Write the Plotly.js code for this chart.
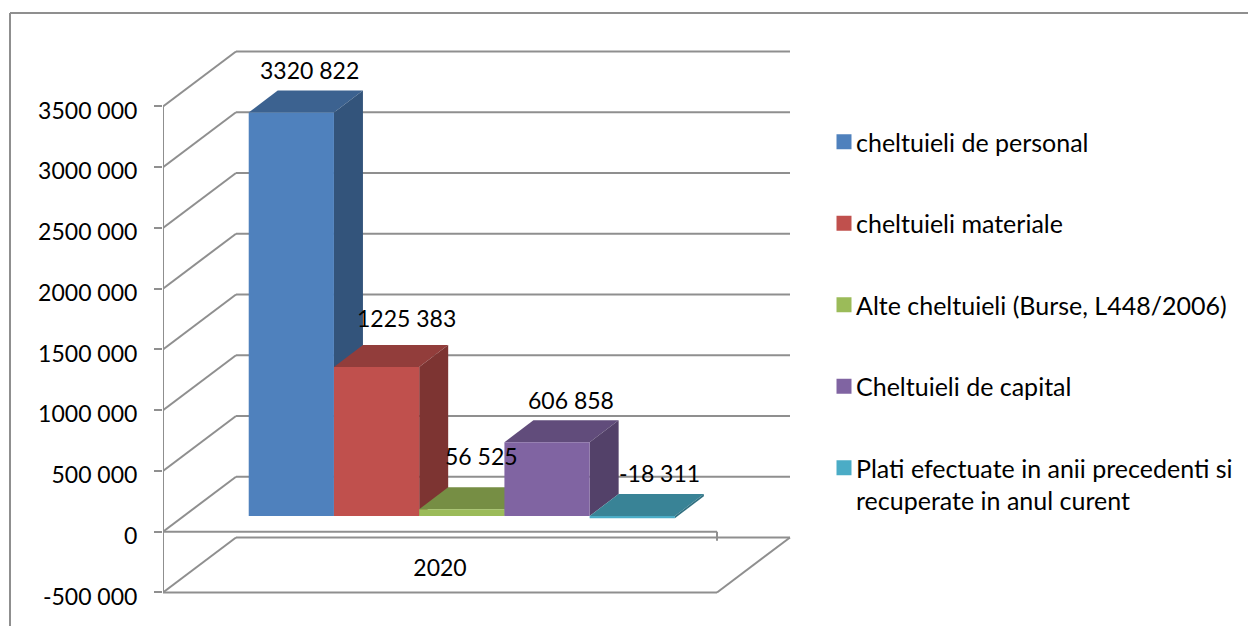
<!DOCTYPE html>
<html>
<head>
<meta charset="utf-8">
<script src="https://cdn.plot.ly/plotly-3.0.1.min.js"></script>
<style>html,body{margin:0;padding:0;background:#fff}#chart{width:1248px;height:626px}</style>
</head>
<body>
<div id="chart"></div>
<script>
// ---- data ----
const categories = ['2020'];
const seriesNames = [
  'cheltuieli de personal',
  'cheltuieli materiale',
  'Alte cheltuieli (Burse, L448/2006)',
  'Cheltuieli de capital',
  'Plati efectuate in anii precedenti si<br>recuperate in anul curent'
];
const cheltuieliPersonal = [3320822];
const cheltuieliMateriale = [1225383];
const alteCheltuieli = [56525];
const cheltuieliCapital = [606858];
const platiRecuperate = [-18311];
const yTicks = [-500000, 0, 500000, 1000000, 1500000, 2000000, 2500000, 3000000, 3500000];

// ---- style and geometry ----
const FONT = 'Lato, "Noto Sans", sans-serif';
const FS = 23, LEGEND_FS = 25;
const GRID = '#8f8f8f';
const colors = ['#4F81BD', '#C0504D', '#9BBB59', '#8064A2', '#4BACC6'];
const W = 1248, H = 626;
const plotL = 163, plotR = 800, plotT = 40, plotB = 600;
const zeroPx = 531.7;                    // pixel row of value 0 on the front plane
const pxPerCat = 554, pxPerVal = 60.75 / 500000;
const dxPx = u => u / pxPerCat, dvPx = u => u / pxPerVal;
const wallDx = dxPx(73), wallDv = dvPx(55);      // front plane -> back wall
const barDx = dxPx(29), barDv = dvPx(22);        // depth of a bar
const startDx = dxPx(21.8), startDv = dvPx(15.7); // front plane -> front of the bars
const barW = 1 / 6.5, barGap = 0.75 * barW;
const labelNudge = [[18, 43], [30, 49], [20, 53], [24, 42], [27, 43]]; // px from bar top

function shade(hex, f) {
  const n = parseInt(hex.slice(1), 16);
  const c = [n >> 16 & 255, n >> 8 & 255, n & 255].map(v => Math.round(v * f));
  return 'rgb(' + c.join(',') + ')';
}
function fmt(v) {
  const a = Math.abs(v), s = String(a);
  const t = a >= 1000 ? s.slice(0, -3) + ' ' + s.slice(-3) : s;
  return (v < 0 ? '-' : '') + t;
}

// ---- traces ----
const allSeries = [cheltuieliPersonal, cheltuieliMateriale, alteCheltuieli, cheltuieliCapital, platiRecuperate];
const traces = [], annotations = [];
allSeries.forEach((vals, i) => {
  const v = vals[0];
  const L = startDx + barGap + i * barW, R = L + barW;
  const T = startDv + Math.max(v, 0), B = startDv + Math.min(v, 0);
  traces.push({
    type: 'bar', name: seriesNames[i], x: [(L + R) / 2], y: vals, base: [startDv], width: [barW],
    marker: {color: colors[i], line: {width: 0}},
    legendgroup: 'g' + i, zorder: 2 * i + 1, hoverinfo: 'skip'
  });
  traces.push({
    type: 'scatter', mode: 'lines', showlegend: false, legendgroup: 'g' + i, hoverinfo: 'skip',
    x: [L, R, R + barDx, L + barDx, L], y: [T, T, T + barDv, T + barDv, T],
    fill: 'toself', fillcolor: shade(colors[i], 0.76), line: {width: 0}, zorder: 2 * i
  });
  traces.push({
    type: 'scatter', mode: 'lines', showlegend: false, legendgroup: 'g' + i, hoverinfo: 'skip',
    x: [R, R + barDx, R + barDx, R, R], y: [T, T + barDv, B + barDv, B, T],
    fill: 'toself', fillcolor: shade(colors[i], 0.65), line: {width: 0}, zorder: 2 * i
  });
  annotations.push({
    x: (L + R) / 2, y: T, xref: 'x', yref: 'y', text: fmt(v), showarrow: false,
    xanchor: 'center', yanchor: 'middle',
    xshift: labelNudge[i][0], yshift: labelNudge[i][1],
    font: {family: FONT, size: FS, color: '#000'}
  });
});

// ---- 3D walls, floor and gridlines, under the bars ----
const line = (x0, y0, x1, y1, w) => ({
  type: 'line', layer: 'below', xref: 'x', yref: 'y', x0, y0, x1, y1,
  line: {color: GRID, width: w || 2}
});
const shapes = [];
const yMin = Math.min(...yTicks), yMax = Math.max(...yTicks);
yTicks.forEach(v => {
  shapes.push(line(0, v, wallDx, v + wallDv));
  shapes.push(line(wallDx, v + wallDv, 1 + wallDx, v + wallDv));
});
shapes.push(line(0, yMin, 0, yMax));                      // front value axis
shapes.push(line(0, yMin, 1, yMin));                      // floor front
shapes.push(line(1, yMin, 1 + wallDx, yMin + wallDv));    // floor right
shapes.push(line(0, 0, 1, 0));                            // zero line
shapes.push(line(1, 0, 1, -dvPx(9)));                     // category tick
// outer chart frame (open at the bottom and right)
const frame = (x0, y0, x1, y1) => ({
  type: 'line', xref: 'paper', yref: 'paper', layer: 'below',
  x0: (x0 - plotL) / (plotR - plotL), x1: (x1 - plotL) / (plotR - plotL),
  y0: (plotB - y0) / (plotB - plotT), y1: (plotB - y1) / (plotB - plotT),
  line: {color: GRID, width: 2}
});
shapes.push(frame(10, 13, W, 13));
shapes.push(frame(10, 13, 10, H));

const layout = {
  width: W, height: H, autosize: false, showlegend: true,
  paper_bgcolor: '#fff', plot_bgcolor: 'rgba(0,0,0,0)',
  margin: {l: plotL, r: W - plotR, t: plotT, b: H - plotB, pad: 0},
  barmode: 'overlay', hovermode: false,
  font: {family: FONT, size: FS, color: '#000'},
  xaxis: {
    type: 'linear', range: [0, (plotR - plotL) / pxPerCat],
    tickmode: 'array', tickvals: [0.5], ticktext: categories,
    showgrid: false, zeroline: false, showline: false, ticks: '',
    anchor: 'free', position: 0.0854, fixedrange: true,
    tickfont: {family: FONT, size: FS, color: '#000'}
  },
  yaxis: {
    type: 'linear', range: [(zeroPx - plotB) / pxPerVal, (zeroPx - plotT) / pxPerVal],
    tickmode: 'array', tickvals: yTicks, ticktext: yTicks.map(fmt),
    showgrid: false, zeroline: false, showline: false,
    ticks: 'outside', ticklen: 8, tickwidth: 2, tickcolor: GRID,
    ticklabelstandoff: 12, ticklabelshift: 4, fixedrange: true,
    tickfont: {family: FONT, size: FS, color: '#000'}
  },
  legend: {
    xref: 'container', yref: 'paper', x: 824 / W, y: (plotB - 119) / (plotB - plotT),
    xanchor: 'left', yanchor: 'top', bgcolor: 'rgba(0,0,0,0)',
    tracegroupgap: 46, traceorder: 'grouped', valign: 'top',
    font: {family: FONT, size: LEGEND_FS, color: '#000'}
  },
  shapes, annotations
};

Plotly.newPlot('chart', traces, layout, {displayModeBar: false, responsive: false}).then(gd => {
  // tighten the legend: larger swatches, text closer to them
  gd.querySelectorAll('.legend .legendtext').forEach(t => {
    const shift = x => (parseFloat(x) - 8);
    t.setAttribute('x', shift(t.getAttribute('x')));
    t.querySelectorAll('tspan[x]').forEach(s => s.setAttribute('x', shift(s.getAttribute('x'))));
  });
  gd.querySelectorAll('.legend .legendbar path, .legend path.legendundefined').forEach(p => {
    p.setAttribute('d', 'M7.5,7.5H-7.5V-7.5H7.5Z');
  });
});
</script>
</body>
</html>
